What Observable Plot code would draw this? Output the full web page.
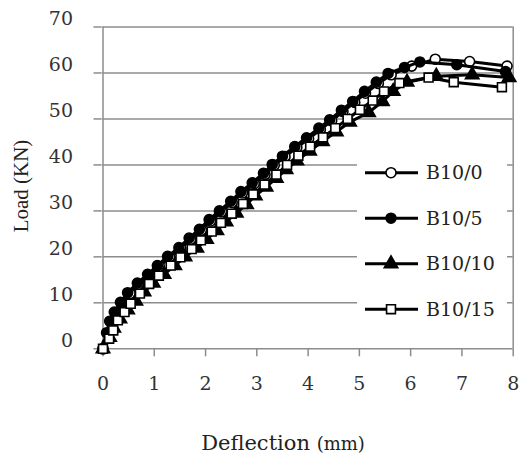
<!DOCTYPE html>
<html><head><meta charset="utf-8">
<script src="https://cdn.jsdelivr.net/npm/d3@7"></script>
<script src="https://cdn.jsdelivr.net/npm/@observablehq/plot@0.6"></script>
<style>body{margin:0;background:#fff}#chart{width:519px;height:456px}</style>
</head><body><div id="chart"></div>
<script>
const seriesNames = ["B10/0", "B10/5", "B10/10", "B10/15"];

const b10_0_x = [0, 0.10, 0.17, 0.27, 0.38, 0.53, 0.70, 0.90, 1.10, 1.30, 1.52, 1.71, 1.92, 2.10, 2.31, 2.52, 2.72, 2.95, 3.16, 3.34, 3.55, 3.78, 4.01, 4.24, 4.46, 4.68, 4.91, 5.12, 5.37, 5.62, 6.02, 6.48, 7.15, 7.88];
const b10_0_y = [0, 3.2, 5.6, 7.7, 9.8, 12.0, 14.0, 15.9, 17.9, 19.9, 21.8, 23.8, 25.8, 27.8, 29.8, 31.8, 33.9, 35.9, 37.9, 39.9, 41.8, 43.8, 45.7, 47.7, 49.6, 51.6, 53.6, 55.6, 57.7, 59.6, 61.5, 63.0, 62.5, 61.5];

const b10_5_x = [0, 0.07, 0.13, 0.22, 0.34, 0.48, 0.67, 0.87, 1.06, 1.26, 1.48, 1.68, 1.88, 2.07, 2.27, 2.49, 2.69, 2.91, 3.13, 3.30, 3.50, 3.74, 3.97, 4.21, 4.42, 4.65, 4.87, 5.10, 5.33, 5.56, 5.88, 6.18, 6.90, 7.85];
const b10_5_y = [0, 3.5, 6.0, 8.0, 10.1, 12.2, 14.3, 16.2, 18.1, 20.1, 22.0, 24.1, 26.0, 28.1, 30.0, 32.1, 34.2, 36.1, 38.2, 40.1, 41.9, 44.0, 45.9, 48.0, 49.8, 51.9, 53.8, 56.0, 58.0, 59.9, 61.2, 62.4, 61.8, 60.3];

const b10_10_x = [0, 0.13, 0.21, 0.33, 0.48, 0.64, 0.80, 0.98, 1.19, 1.40, 1.60, 1.83, 2.02, 2.22, 2.40, 2.60, 2.80, 2.97, 3.18, 3.38, 3.57, 3.78, 4.03, 4.28, 4.55, 4.81, 5.18, 5.45, 5.66, 5.93, 6.50, 7.20, 7.92];
const b10_10_y = [0, 2.5, 4.5, 6.5, 8.5, 10.4, 12.4, 14.3, 16.2, 18.1, 20.0, 21.9, 23.8, 25.7, 27.6, 29.5, 31.4, 33.3, 35.2, 37.1, 39.0, 40.9, 43.0, 45.1, 47.2, 49.3, 51.4, 53.8, 56.0, 58.0, 59.3, 59.6, 59.0];

const b10_15_x = [0, 0.12, 0.20, 0.29, 0.42, 0.54, 0.72, 0.90, 1.09, 1.32, 1.51, 1.73, 1.91, 2.12, 2.30, 2.51, 2.73, 2.93, 3.15, 3.38, 3.59, 3.81, 4.04, 4.29, 4.53, 4.77, 5.01, 5.26, 5.48, 5.78, 6.35, 6.84, 7.78];
const b10_15_y = [0, 2.2, 4.0, 6.2, 8.0, 9.8, 12.0, 14.1, 15.9, 18.1, 19.9, 21.7, 23.6, 25.5, 27.4, 29.4, 31.5, 33.6, 35.7, 37.9, 40.0, 42.0, 44.0, 46.0, 48.0, 50.0, 52.0, 54.0, 56.0, 57.8, 59.0, 58.0, 56.9];

const xTicks = [0, 1, 2, 3, 4, 5, 6, 7, 8];
const yTicks = [0, 10, 20, 30, 40, 50, 60, 70];
const xTitle = "Deflection";
const xUnit = "(mm)";
const yTitle = "Load (KN)";
const symbolTypes = ["circle", "circle", "triangle", "square"];
const fillColors = ["white", "black", "black", "white"];

const xs = [b10_0_x, b10_5_x, b10_10_x, b10_15_x];
const ys = [b10_0_y, b10_5_y, b10_10_y, b10_15_y];
const rows = [];
seriesNames.forEach((s, i) => xs[i].forEach((x, j) => rows.push({series: s, x, y: ys[i][j]})));

const grey = "#8c8c8c";
const font = "DejaVu Serif";
const R = 5;
const marks = [
  Plot.ruleY(yTicks.filter(d => d > 0), {stroke: grey, strokeWidth: 1.5}),
  Plot.ruleX([d3.max(xTicks)], {stroke: grey, strokeWidth: 1.5}),
  Plot.ruleX([0], {stroke: grey, strokeWidth: 1.5}),
  Plot.ruleY([0], {stroke: grey, strokeWidth: 1.5}),
  Plot.tickY(yTicks, {y: d => d, stroke: grey, strokeWidth: 1.5, insetLeft: -9, insetRight: 411}),
  Plot.axisY(yTicks, {tickSize: 0, tickPadding: 30, fill: "#333", dy: -8, label: null}),
  Plot.axisX(xTicks, {tickSize: 8, tickPadding: 20, stroke: grey, strokeWidth: 1.5, fill: "#333", label: null})
];
seriesNames.forEach((s, i) => {
  const d = rows.filter(r => r.series === s);
  marks.push(Plot.line(d, {x: "x", y: "y", stroke: "black", strokeWidth: 3}));
  marks.push(Plot.dot(d, {x: "x", y: "y", symbol: () => symbolTypes[i], r: R, fill: fillColors[i], stroke: "black", strokeWidth: 1.6}));
});

const chart = Plot.plot({
  width: 519, height: 456,
  marginLeft: 102.5, marginRight: 6.3, marginTop: 26.5, marginBottom: 107.7,
  x: {domain: [0, 8]},
  y: {domain: [0, 70]},
  style: {fontFamily: font, fontSize: "19px", background: "white"},
  marks
});

const svg = d3.select(chart);
// legend (white box over the gridlines, inside the plot area)
const lg = svg.append("g");
lg.append("rect").attr("x", 357).attr("y", 138).attr("width", 150).attr("height", 192).attr("fill", "white");
seriesNames.forEach((s, i) => {
  const cy = 172.7 + i * 45.5;
  lg.append("line").attr("x1", 365).attr("x2", 418).attr("y1", cy).attr("y2", cy).attr("stroke", "black").attr("stroke-width", 3);
  const type = {circle: d3.symbolCircle, triangle: d3.symbolTriangle, square: d3.symbolSquare}[symbolTypes[i]];
  lg.append("path").attr("transform", `translate(391,${cy})`).attr("d", d3.symbol(type, Math.PI * R * R)())
    .attr("fill", fillColors[i]).attr("stroke", "black").attr("stroke-width", 1.6);
  lg.append("text").attr("x", 426).attr("y", cy).attr("dy", "0.35em").attr("text-anchor", "start")
    .attr("font-family", font).attr("font-size", 19).attr("fill", "#222").text(s);
});
// axis titles
svg.append("text").attr("transform", "translate(21,186) rotate(-90)").attr("text-anchor", "middle").attr("dy", "0.35em")
  .attr("font-family", "Liberation Serif").attr("font-size", 21).attr("fill", "#222").text(yTitle);
const xt = svg.append("text").attr("x", 283).attr("y", 450).attr("text-anchor", "middle").attr("font-family", font).attr("font-size", 21).attr("fill", "#222");
xt.append("tspan").text(xTitle + " ");
xt.append("tspan").attr("font-size", 18).text(xUnit);

document.getElementById("chart").appendChild(chart);
</script>
</body></html>
